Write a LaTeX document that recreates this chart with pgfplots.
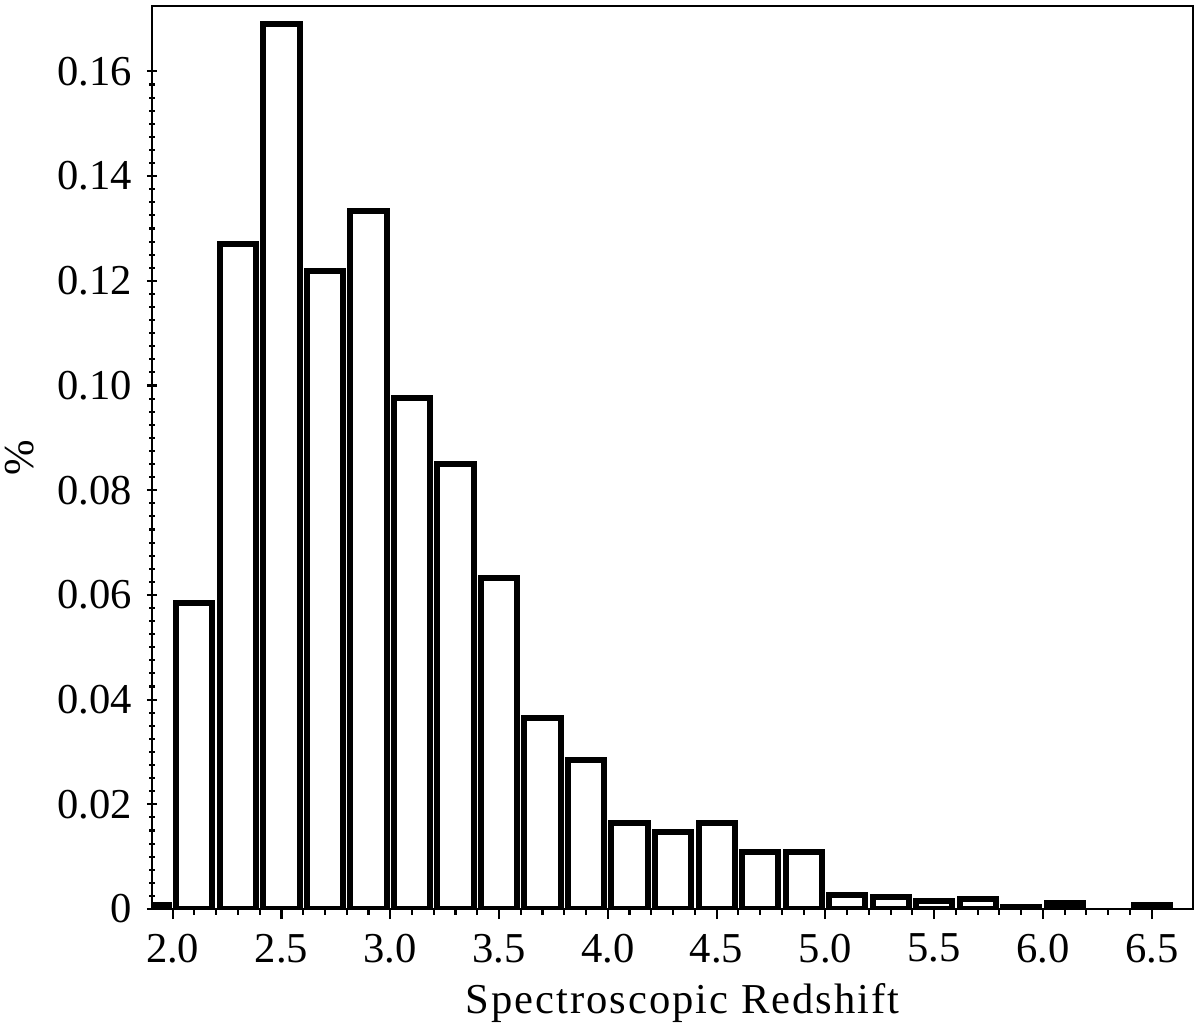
\documentclass[border=0pt]{standalone}
\usepackage{pgfplots}
\pgfplotsset{compat=1.18}
\usepackage{fontspec}
\setmainfont{Liberation Serif}
\newfontfamily\spacedfont[LetterSpace=4.7]{Liberation Serif}
\begin{document}
\fontsize{14.2}{17}\selectfont
\begin{tikzpicture}
\begin{axis}[
  at={(0,0)}, anchor=origin,
  scale only axis,
  width=347pt, height=301pt,
  xmin=1.905, xmax=6.69,
  ymin=0, ymax=0.1725,
  xtick={2.0,2.5,3.0,3.5,4.0,4.5,5.0,5.5,6.0,6.5},
  xticklabels={2.0,2.5,3.0,3.5,4.0,4.5,5.0,5.5,6.0,6.5},
  ytick={0,0.02,0.04,0.06,0.08,0.10,0.12,0.14,0.16},
  yticklabels={0,0.02,0.04,0.06,0.08,0.10,0.12,0.14,0.16},
  minor x tick num=4,
  minor y tick num=7,
  xtick pos=bottom, ytick pos=left,
  tick align=center,
  major tick length=3.4pt,
  minor tick length=2pt,
  tick style={line width=0.7pt, black},
  axis line style={line width=0.9pt},
  xlabel={\spacedfont Spectroscopic Redshift},
  ylabel={\%},
  xlabel style={at={(axis description cs:0.5096,-0.1152)}, anchor=base},
  ylabel style={at={(axis description cs:-0.127,0.5)}, anchor=center, rotate=0},
  ybar, bar width=0.166, bar shift=0,
]
\addplot[draw=black, fill=white, line width=2pt, line join=miter] coordinates {
(1.9,0.0008)
(2.1,0.0585)
(2.3,0.1271)
(2.5,0.1691)
(2.7,0.1219)
(2.9,0.1334)
(3.1,0.0977)
(3.3,0.0850)
(3.5,0.0633)
(3.7,0.0365)
(3.9,0.0285)
(4.1,0.0164)
(4.3,0.0147)
(4.5,0.0164)
(4.7,0.0108)
(4.9,0.0108)
(5.1,0.0027)
(5.3,0.0023)
(5.5,0.0016)
(5.7,0.0019)
(5.9,0.0004)
(6.1,0.0011)
(6.5,0.0008)
};
\end{axis}
\pgfresetboundingbox
\path (-50.67pt,-39.33pt) rectangle (349.33pt,303pt);
\end{tikzpicture}
\end{document}
